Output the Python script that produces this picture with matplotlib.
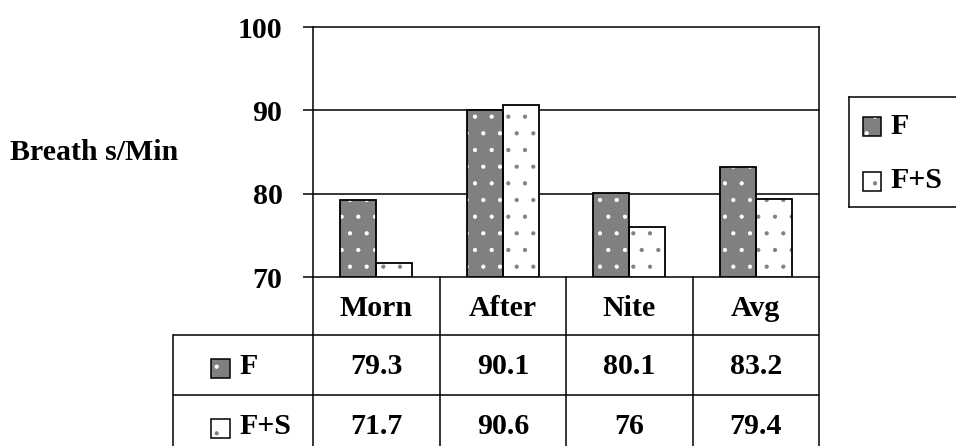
import matplotlib.pyplot as plt
from matplotlib.patches import Rectangle
import numpy as np

plt.rcParams['font.family'] = ['Liberation Serif', 'DejaVu Serif']
plt.rcParams['font.weight'] = 'bold'
plt.rcParams['font.size'] = 21.5
plt.rcParams['hatch.linewidth'] = 0.6

categories = ['Morn', 'After', 'Nite', 'Avg']
series = ['F', 'F+S']
f_vals = [79.3, 90.1, 80.1, 83.2]
fs_vals = [71.7, 90.6, 76, 79.4]
f_text = ['79.3', '90.1', '80.1', '83.2']
fs_text = ['71.7', '90.6', '76', '79.4']
yticks = [70, 80, 90, 100]

W, H = 956, 446
fig = plt.figure(figsize=(W / 100, H / 100), dpi=100)


def fx(px):
    return px / W


def fy(py):
    return 1 - py / H


# main plot area
ax = fig.add_axes([fx(313), fy(277), fx(819) - fx(313), fy(27) - fy(277)])
x = np.arange(len(categories))
w = 0.285
grey = '#808080'

# F bars: grey with white dots
ax.bar(x - w / 2, np.array(f_vals) - 70, w, bottom=70, color=grey,
       edgecolor='white', hatch='.', linewidth=0, zorder=3)
ax.bar(x - w / 2, np.array(f_vals) - 70, w, bottom=70, fill=False,
       edgecolor='black', linewidth=1.3, zorder=4)
# F+S bars: white with grey dots
ax.bar(x + w / 2, np.array(fs_vals) - 70, w, bottom=70, color='white',
       edgecolor=grey, hatch='.', linewidth=0, zorder=3)
ax.bar(x + w / 2, np.array(fs_vals) - 70, w, bottom=70, fill=False,
       edgecolor='black', linewidth=1.3, zorder=4)

ax.set_xlim(-0.5, len(categories) - 0.5)
ax.set_ylim(70, 100)
ax.set_yticks(yticks)
ax.set_xticks([])
ax.tick_params(axis='y', direction='out', length=7, width=1.1, pad=15)
for t in ax.get_yticklabels():
    t.set_fontweight('bold')
for s in ax.spines.values():
    s.set_linewidth(1.1)
for v in yticks[1:-1]:
    ax.axhline(v, color='black', linewidth=1.1, zorder=1)

fig.text(fx(10), fy(152), 'Breath s/Min', ha='left', va='center')

# data table under the plot
tab = fig.add_axes([fx(173), 0, fx(819) - fx(173), fy(277)])
tab.set_xlim(173, 819)
tab.set_ylim(446, 277)
tab.axis('off')
col_edges = np.linspace(313, 819, len(categories) + 1)
lw = 1.1
for cx in col_edges:
    tab.plot([cx, cx], [277, 455], color='black', lw=lw, clip_on=False)
tab.plot([173, 173], [335, 455], color='black', lw=lw, clip_on=False)
tab.plot([173, 819], [335, 335], color='black', lw=lw)
tab.plot([173, 819], [395, 395], color='black', lw=lw)
centers = (col_edges[:-1] + col_edges[1:]) / 2
for cx, c in zip(centers, categories):
    tab.text(cx, 308, c, ha='center', va='center')
for cx, a, b in zip(centers, f_text, fs_text):
    tab.text(cx, 367, a, ha='center', va='center')
    tab.text(cx, 426, b, ha='center', va='center')

row_y = [368, 428]
faces = [(grey, 'white'), ('white', grey)]
for ry, name, (fc, dc) in zip(row_y, series, faces):
    tab.add_patch(Rectangle((211, ry - 9.5), 19, 19, facecolor=fc, edgecolor=dc,
                            hatch='.', linewidth=0))
    tab.add_patch(Rectangle((211, ry - 9.5), 19, 19, fill=False, edgecolor='black',
                            linewidth=1.1))
    tab.text(239, ry - 1, name, ha='left', va='center')

# legend box on the right
leg = fig.add_axes([fx(849), fy(207), fx(960) - fx(849), fy(97) - fy(207)])
leg.set_xlim(849, 960)
leg.set_ylim(207, 97)
leg.set_xticks([])
leg.set_yticks([])
for s in leg.spines.values():
    s.set_linewidth(1.1)
leg_y = [126, 181]
for ly, name, (fc, dc) in zip(leg_y, series, faces):
    leg.add_patch(Rectangle((863, ly - 9.5), 18, 19, facecolor=fc, edgecolor=dc,
                            hatch='.', linewidth=0))
    leg.add_patch(Rectangle((863, ly - 9.5), 18, 19, fill=False, edgecolor='black',
                            linewidth=1.1))
    leg.text(890, ly, name, ha='left', va='center')

fig.savefig('out.png', dpi=100)
